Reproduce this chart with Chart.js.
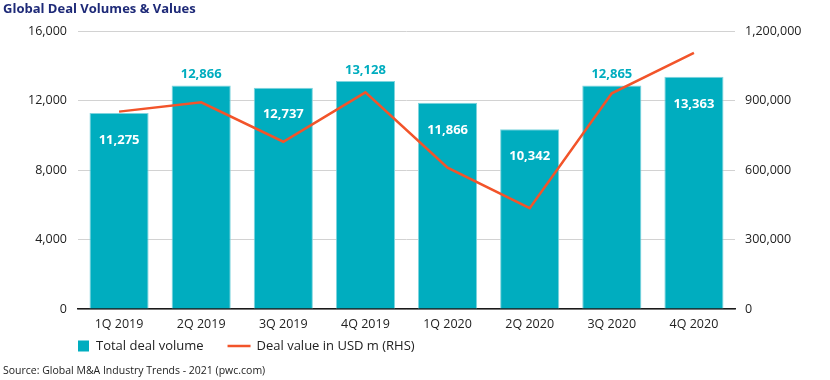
<!DOCTYPE html>
<html><head><meta charset="utf-8">
<script src="https://cdn.jsdelivr.net/npm/chart.js@4"></script>
<style>html,body{margin:0;padding:0;background:#fff}#wrap{width:830px;height:380px;position:relative}</style>
</head><body>
<div id="wrap"><canvas id="c" width="830" height="380"></canvas></div>
<script>
const categories = ['1Q 2019','2Q 2019','3Q 2019','4Q 2019','1Q 2020','2Q 2020','3Q 2020','4Q 2020'];
const dealVolume = [11275, 12866, 12737, 13128, 11866, 10342, 12865, 13363];
const dealValue = [852000, 892000, 722000, 935000, 610000, 435000, 931000, 1106000];
const volumeTicks = [0, 4000, 8000, 12000, 16000];
const valueTicks = [0, 300000, 600000, 900000, 1200000];
const labelInside = [true, false, true, false, true, true, false, true];
const titleText = 'Global Deal Volumes & Values';
const sourceText = 'Source: Global M&A Industry Trends - 2021 (pwc.com)';

const FONT = "'Open Sans', sans-serif";
const BAR = '#00ADBF';
const LINE = '#F2542A';
const fmt = v => Number(v).toLocaleString('en-US');

const extras = {
  id: 'extras',
  afterDatasetsDraw(chart) {
    const ctx = chart.ctx;
    const meta = chart.getDatasetMeta(0);
    ctx.save();
    ctx.font = "bold 13px " + FONT;
    ctx.textAlign = 'center';
    ctx.textBaseline = 'middle';
    meta.data.forEach((bar, i) => {
      const inside = labelInside[i];
      ctx.fillStyle = inside ? '#ffffff' : BAR;
      ctx.fillText(fmt(chart.data.datasets[0].data[i]), bar.x, inside ? bar.y + 27 : bar.y - 11);
    });
    ctx.restore();
  },
  afterDraw(chart) {
    const ctx = chart.ctx;
    const ds = chart.data.datasets;
    ctx.save();
    ctx.font = "bold 13px " + FONT;
    ctx.fillStyle = '#1E2A78';
    ctx.textAlign = 'left';
    ctx.textBaseline = 'middle';
    ctx.fillText(titleText, 3, 9);
    const ly = 346;
    let x = chart.chartArea.left;
    ctx.fillStyle = ds[0].backgroundColor;
    ctx.fillRect(x, ly - 5.5, 11, 11);
    ctx.font = "13px " + FONT;
    ctx.fillStyle = '#222';
    ctx.fillText(ds[0].label, x + 18, ly);
    x = x + 18 + ctx.measureText(ds[0].label).width + 24;
    ctx.strokeStyle = ds[1].borderColor;
    ctx.lineWidth = 2.5;
    ctx.beginPath(); ctx.moveTo(x, ly); ctx.lineTo(x + 23, ly); ctx.stroke();
    ctx.fillText(ds[1].label, x + 29, ly);
    ctx.font = "10.5px " + FONT;
    ctx.fillText(sourceText, 3, 371);
    ctx.restore();
  }
};

new Chart(document.getElementById('c'), {
  data: {
    labels: categories,
    datasets: [
      {
        type: 'bar', label: 'Total deal volume', data: dealVolume, yAxisID: 'y',
        backgroundColor: BAR, borderColor: '#7FD4DE', borderWidth: 1, borderSkipped: 'start',
        categoryPercentage: 1, barPercentage: 0.72, order: 2
      },
      {
        type: 'line', label: 'Deal value in USD m (RHS)', data: dealValue, yAxisID: 'y1',
        borderColor: LINE, backgroundColor: LINE, borderWidth: 2.5, pointRadius: 0, tension: 0,
        fill: false, order: 1
      }
    ]
  },
  options: {
    responsive: false, animation: false,
    layout: { padding: { top: 31, bottom: 40, left: 0, right: 0 } },
    plugins: { legend: { display: false }, tooltip: { enabled: false }, title: { display: false } },
    scales: {
      x: {
        grid: { display: false, drawTicks: false },
        border: { display: true, color: '#1a1a1a', width: 1.5 },
        ticks: { color: '#222', font: { family: FONT, size: 12.5 }, padding: 8 }
      },
      y: {
        position: 'left', min: 0, max: 16000,
        afterBuildTicks: s => { s.ticks = volumeTicks.map(v => ({ value: v })); },
        afterFit: s => { s.width = 78; },
        grid: { color: '#d2d2d2', lineWidth: 1, drawTicks: false },
        border: { display: false },
        ticks: { color: '#222', font: { family: FONT, size: 12.5 }, padding: 11, callback: v => fmt(v) }
      },
      y1: {
        position: 'right', min: 0, max: 1200000,
        afterBuildTicks: s => { s.ticks = valueTicks.map(v => ({ value: v })); },
        afterFit: s => { s.width = 95; },
        grid: { drawOnChartArea: false, drawTicks: false },
        border: { display: false },
        ticks: { color: '#222', font: { family: FONT, size: 12.5 }, padding: 10, callback: v => fmt(v) }
      }
    }
  },
  plugins: [extras]
});
</script>
</body></html>
